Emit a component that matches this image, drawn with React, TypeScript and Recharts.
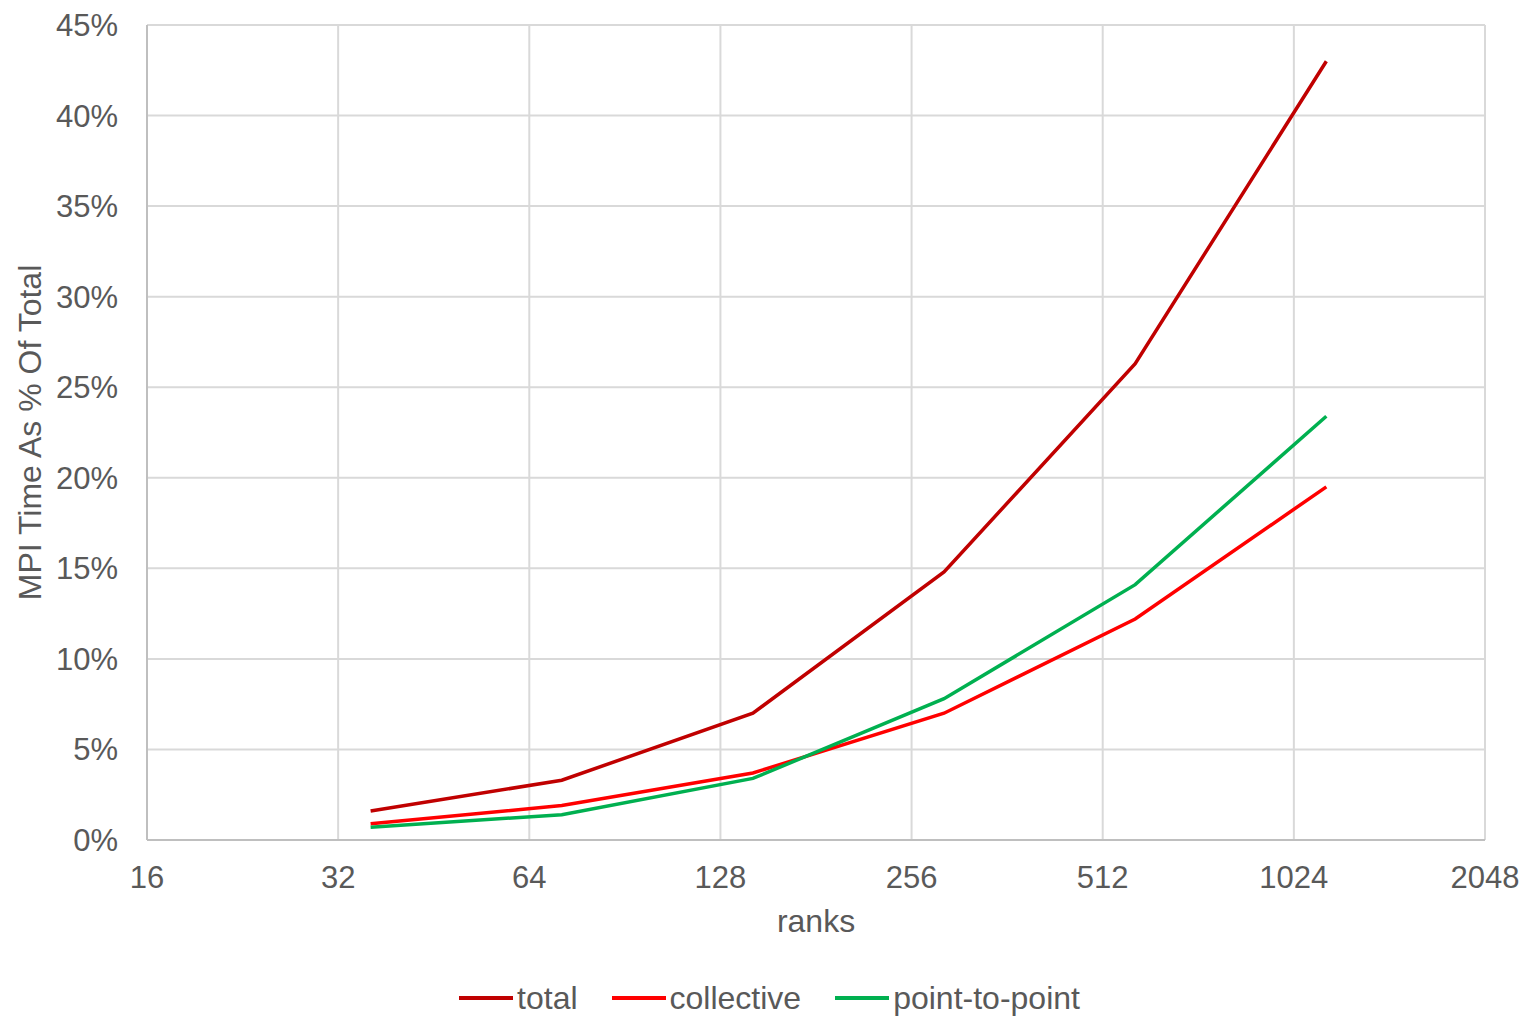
import React from "react";
import { CartesianGrid, Label, Legend, Line, LineChart, XAxis, YAxis } from "recharts";

const ranks = [36, 72, 144, 288, 576, 1152];
const total = [1.6, 3.3, 7.0, 14.8, 26.3, 43.0];
const collective = [0.9, 1.9, 3.7, 7.0, 12.2, 19.5];
const pointToPoint = [0.7, 1.4, 3.4, 7.8, 14.1, 23.4];

const xTicks = [16, 32, 64, 128, 256, 512, 1024, 2048];
const yTicks = [0, 5, 10, 15, 20, 25, 30, 35, 40, 45];

const seriesInfo = [
  { key: "total", name: "total", color: "#C00000" },
  { key: "collective", name: "collective", color: "#FF0000" },
  { key: "p2p", name: "point-to-point", color: "#00B050" },
];

const data = ranks.map((r, i) => ({
  ranks: r,
  total: total[i],
  collective: collective[i],
  p2p: pointToPoint[i],
}));

const FONT = "'Liberation Sans', Arial, sans-serif";
const TEXT = "#595959";

function LegendContent() {
  return (
    <div
      style={{
        display: "flex",
        justifyContent: "center",
        alignItems: "center",
        fontFamily: FONT,
        fontSize: 32,
        color: TEXT,
        height: 70,
        paddingTop: 34,
        paddingLeft: 52,
        boxSizing: "border-box",
      }}
    >
      {seriesInfo.map((s) => (
        <div key={s.key} style={{ display: "flex", alignItems: "center", margin: "0 16px" }}>
          <svg width={58} height={10}>
            <line x1={2} y1={5} x2={56} y2={5} stroke={s.color} strokeWidth={4} />
          </svg>
          <span style={{ marginLeft: 2 }}>{s.name}</span>
        </div>
      ))}
    </div>
  );
}

export default function App() {
  return (
    <div style={{ position: "absolute", left: 0, top: 0, background: "#fff" }}>
      <LineChart width={1524} height={1016} data={data} margin={{ top: 25, right: 39, left: 0, bottom: 0 }}>
        <CartesianGrid stroke="#D9D9D9" strokeWidth={2} />
        <XAxis
          dataKey="ranks"
          type="number"
          scale="log"
          domain={[16, 2048]}
          ticks={xTicks}
          allowDataOverflow
          height={106}
          tickSize={0}
          tickMargin={26}
          stroke="#BFBFBF"
          strokeWidth={2}
          tick={{ fill: TEXT, fontSize: 31, fontFamily: FONT }}
        >
          <Label value="ranks" position="insideBottom" offset={14} fill={TEXT} fontSize={32} fontFamily={FONT} />
        </XAxis>
        <YAxis
          type="number"
          domain={[0, 45]}
          ticks={yTicks}
          width={147}
          tickSize={0}
          tickMargin={29}
          stroke="#BFBFBF"
          strokeWidth={2}
          tickFormatter={(v) => `${v}%`}
          tick={{ fill: TEXT, fontSize: 31, fontFamily: FONT }}
        >
          <Label
            value="MPI Time As % Of Total"
            angle={-90}
            position="insideLeft"
            offset={30}
            style={{ textAnchor: "middle" }}
            fill={TEXT}
            fontSize={32}
            fontFamily={FONT}
          />
        </YAxis>
        <Legend verticalAlign="bottom" height={70} content={<LegendContent />} />
        {seriesInfo.map((s) => (
          <Line
            key={s.key}
            type="linear"
            dataKey={s.key}
            name={s.name}
            stroke={s.color}
            strokeWidth={3.5}
            dot={false}
            isAnimationActive={false}
          />
        ))}
      </LineChart>
    </div>
  );
}
